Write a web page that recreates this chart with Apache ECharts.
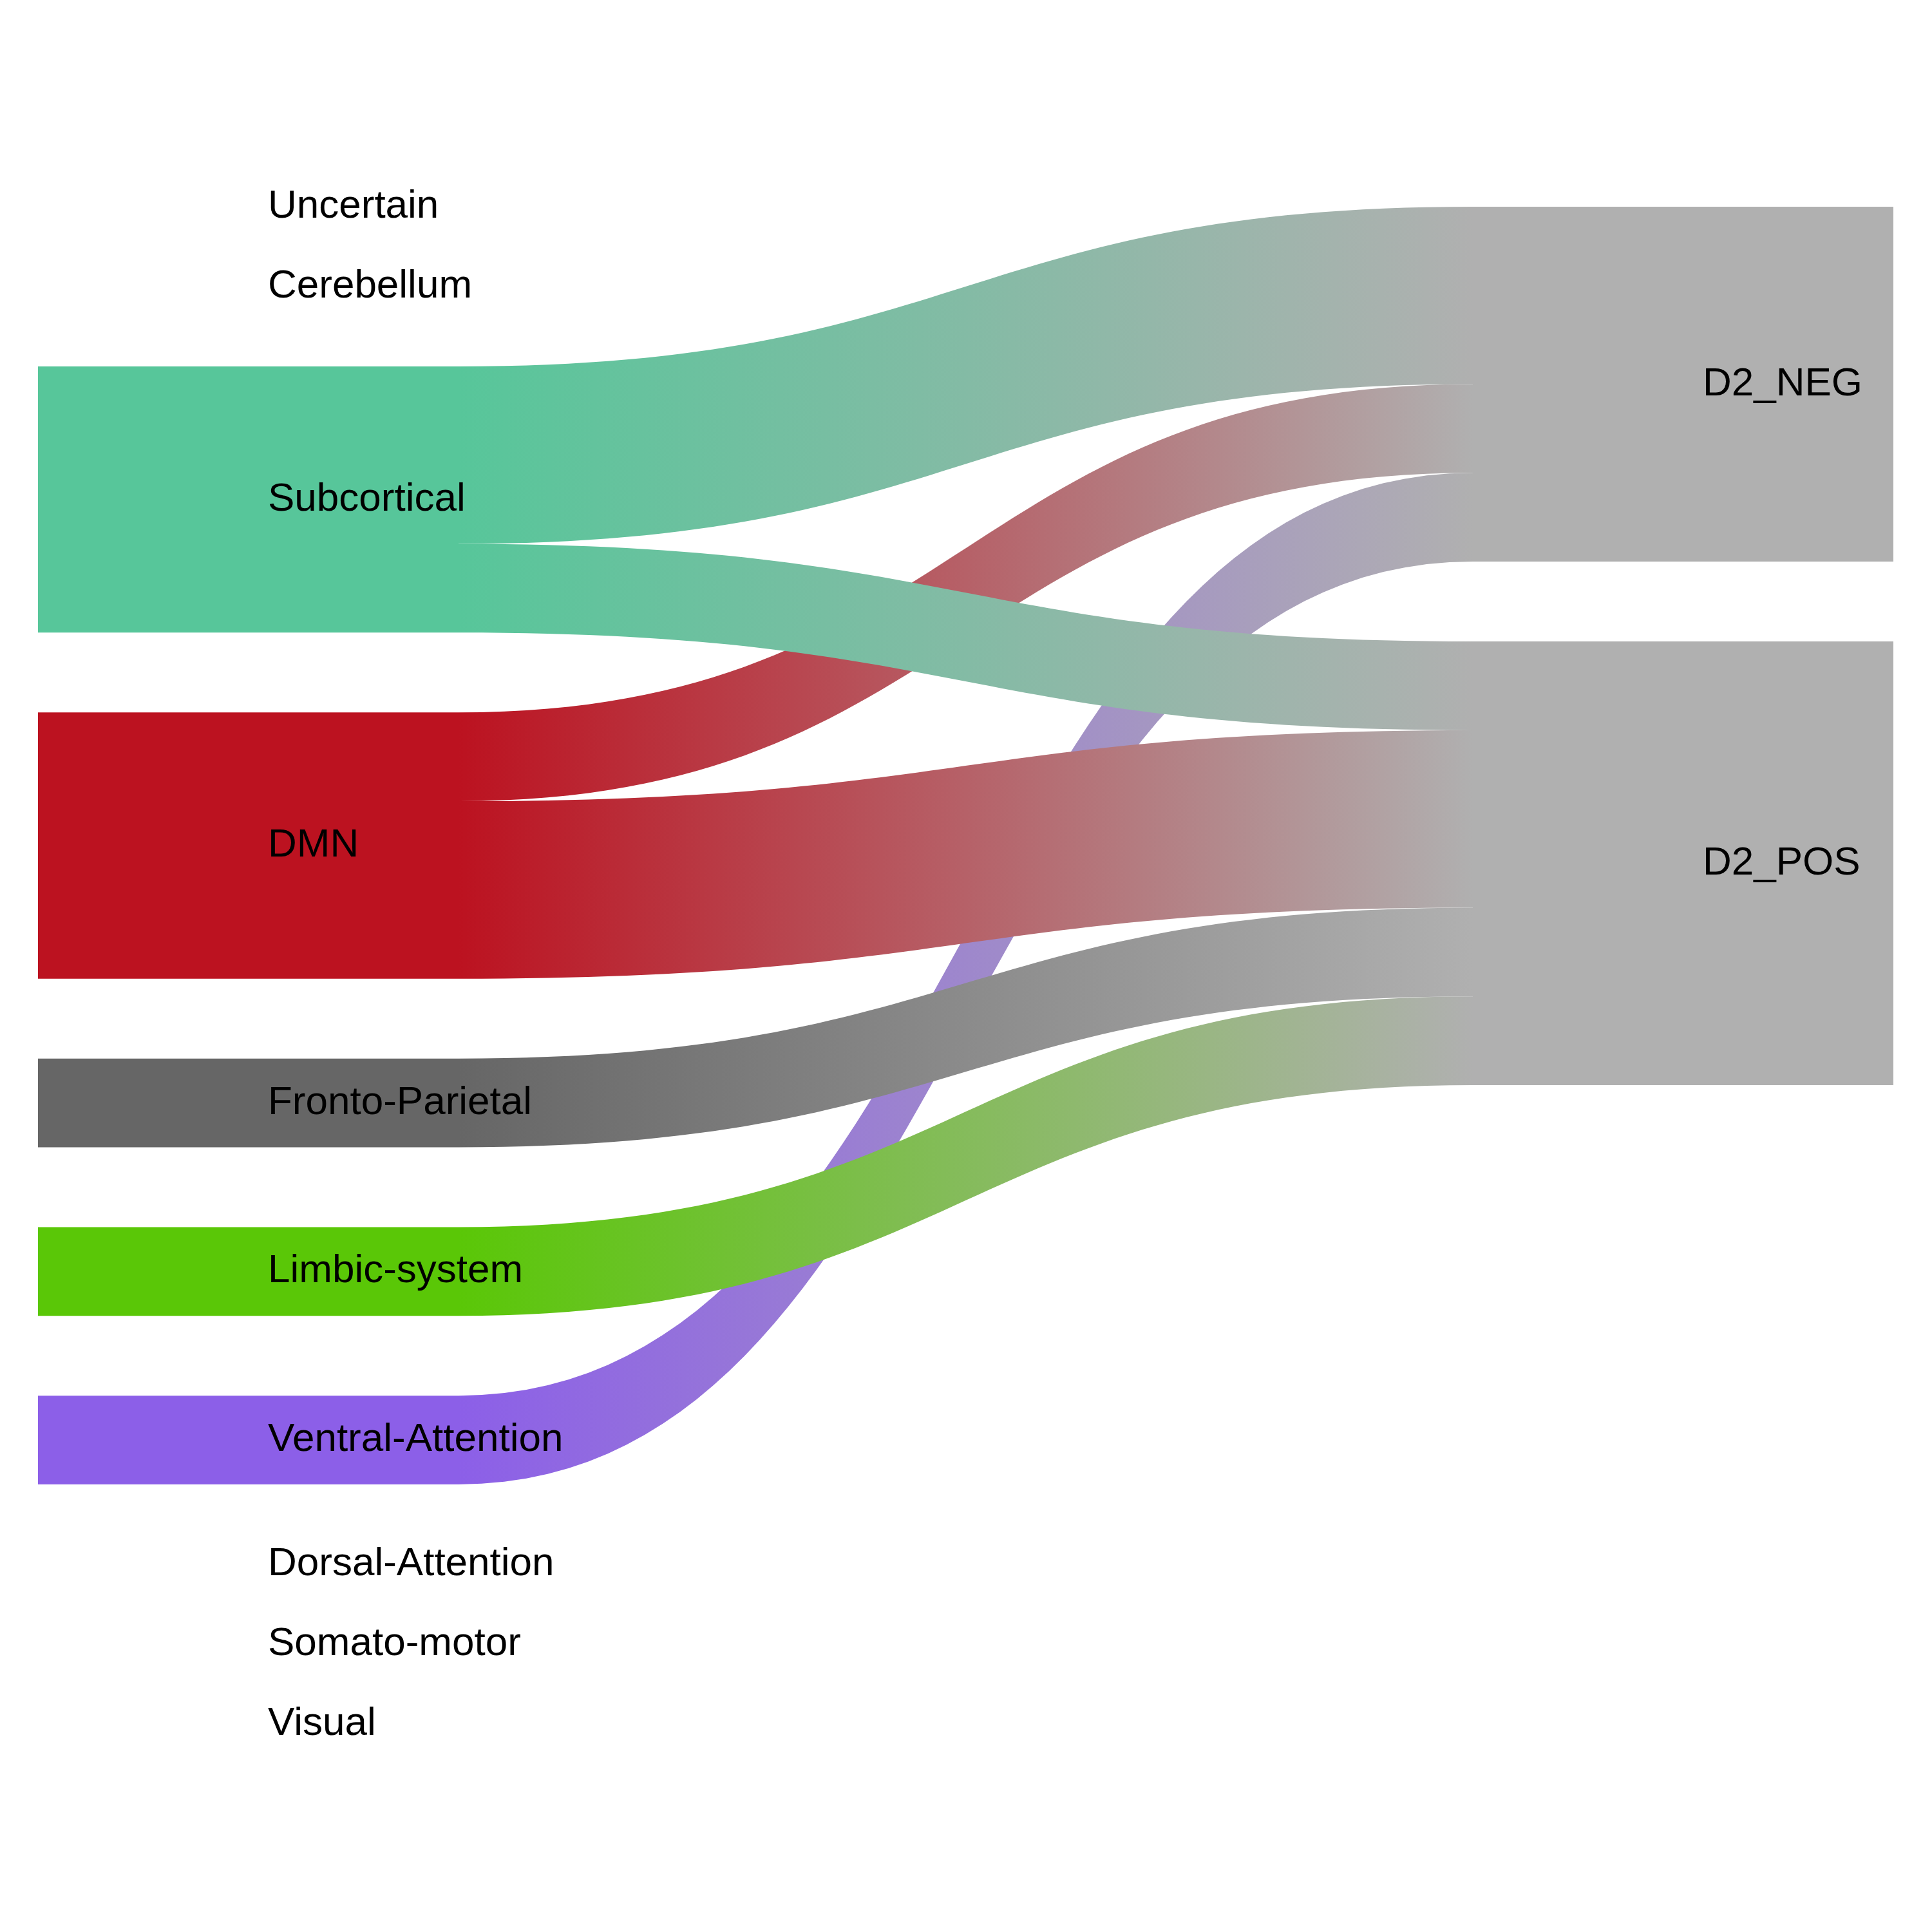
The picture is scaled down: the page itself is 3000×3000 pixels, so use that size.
<!DOCTYPE html>
<html>
<head>
<meta charset="utf-8">
<script src="https://cdn.jsdelivr.net/npm/echarts@6/dist/echarts.min.js"></script>
<style>html,body{margin:0;padding:0;background:#fff;}#chart{width:3000px;height:3000px;}</style>
</head>
<body>
<div id="chart"></div>
<script>
// Source (left) nodes, top to bottom
const sourceNodes = ['Uncertain', 'Cerebellum', 'Subcortical', 'DMN', 'Fronto-Parietal',
  'Limbic-system', 'Ventral-Attention', 'Dorsal-Attention', 'Somato-motor', 'Visual'];
const sourceColors = ['#9e9e9e', '#9e9e9e', '#57c69a', '#bc1220', '#666666',
  '#5ac707', '#8c5fe8', '#9e9e9e', '#9e9e9e', '#9e9e9e'];
// Target (right) nodes
const targetNodes = ['D2_NEG', 'D2_POS'];
const targetColors = ['#b0b0b0', '#b0b0b0'];
// Links (listed in drawing order: first drawn is underneath)
const linkSources = ['Ventral-Attention', 'DMN', 'Subcortical', 'Subcortical', 'DMN', 'Fronto-Parietal', 'Limbic-system'];
const linkTargets = ['D2_NEG', 'D2_NEG', 'D2_NEG', 'D2_POS', 'D2_POS', 'D2_POS', 'D2_POS'];
const linkValues  = [1, 1, 2, 1, 2, 1, 1];

const nodes = [];
sourceNodes.forEach((n, i) => nodes.push({ name: n, depth: 0, itemStyle: { color: sourceColors[i] } }));
targetNodes.forEach((n, i) => nodes.push({ name: n, depth: 1, itemStyle: { color: targetColors[i] } }));
const links = linkSources.map((s, i) => ({ source: s, target: linkTargets[i], value: linkValues[i] }));

const chart = echarts.init(document.getElementById('chart'), null, { renderer: 'canvas' });
chart.setOption({
  backgroundColor: '#ffffff',
  animation: false,
  series: [{
    type: 'sankey',
    left: 59,
    right: 60,
    top: 321,
    bottom: 323,
    nodeWidth: 653,
    nodeGap: 124,
    layoutIterations: 0,
    nodeAlign: 'justify',
    draggable: false,
    emphasis: { disabled: true },
    data: nodes,
    links: links,
    itemStyle: { borderWidth: 0 },
    lineStyle: { color: 'gradient', opacity: 1, curveness: 0.5 },
    label: {
      show: true,
      position: 'insideLeft',
      distance: 357,
      color: '#000000',
      fontFamily: 'Liberation Sans, Arial, sans-serif',
      fontSize: 62
    }
  }]
});
</script>
</body>
</html>
